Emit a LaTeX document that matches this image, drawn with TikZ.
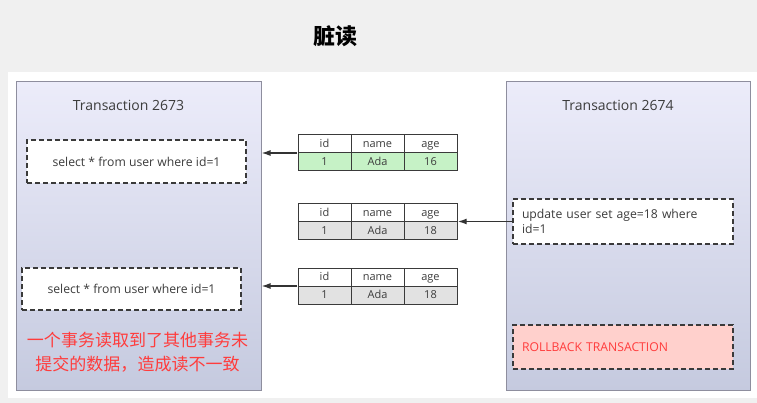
\documentclass[tikz,border=0pt]{standalone}
\usepackage{fontspec}
\setmainfont{Open Sans}
\newfontfamily\cjk{Noto Sans CJK SC}
\usetikzlibrary{arrows.meta,positioning,fit}

\definecolor{pagegray}{HTML}{F0F0F0}
\definecolor{boxtop}{HTML}{ECECFA}
\definecolor{boxbottom}{HTML}{C5CADF}
\definecolor{boxedge}{HTML}{8E8E9E}
\definecolor{dashedge}{HTML}{3A3A3A}
\definecolor{textgray}{HTML}{3C3C3C}
\definecolor{rowgreen}{HTML}{C6F2C6}
\definecolor{rowgray}{HTML}{E2E2E2}
\definecolor{notered}{HTML}{FF3C3C}
\definecolor{rollfill}{HTML}{FFD0CC}

\begin{document}
\begin{tikzpicture}[
      x=1pt, y=-1pt, >=Latex,
      font=\fontsize{12.2}{14.5}\selectfont,
      txbox/.style={draw=boxedge, line width=1pt, top color=boxtop,
        bottom color=boxbottom, minimum width=245pt,
        minimum height=308pt, inner sep=0pt},
      sqlbox/.style={draw=dashedge, dash pattern=on 5pt off 3pt,
        line width=1.6pt, fill=white, minimum width=219pt,
        minimum height=43pt, inner sep=0pt, text=textgray},
      cell/.style={draw=dashedge, line width=1pt, minimum width=53pt,
        minimum height=18pt, inner sep=0pt, text=textgray,
        text height=1.55ex, text depth=0.35ex,
        font=\fontsize{11}{12}\selectfont},
      link/.style={-{Latex[length=9pt,width=6pt]}, line width=1.4pt,
        draw=black!80}
    ]

    % ------------------ Page and panel ------------------
    \fill[pagegray] (0,0) rectangle (757,403);
    \fill[white] (8,72) rectangle (757,398);
    \node[font=\cjk\bfseries\fontsize{22}{24}\selectfont] (title)
    at (335,36) {脏读};

    % ------------------ Transactions ------------------
    \node[txbox] (tx1) at (138.5,236) {};
    \node[txbox, minimum width=244pt] (tx2) at (628,236) {};
    \node[text=textgray, font=\fontsize{14}{16}\selectfont] (tx1title)
    at ([xshift=-10pt, yshift=-24pt]tx1.north) {Transaction 2673};
    \node[text=textgray, font=\fontsize{14}{16}\selectfont] (tx2title)
    at ([xshift=-10pt, yshift=-24pt]tx2.north) {Transaction 2674};

    % ------------------ Statements ------------------
    \node[sqlbox] (sel1) at (136.5,161.5)
    {select * from user where id=1};
    \node[sqlbox, minimum height=42pt] (sel2) at (131.5,289)
    {select * from user where id=1};
    \node[sqlbox, minimum width=220pt, minimum height=45pt,
      text width=202pt, align=left] (upd) at (623,221.5)
    {update user set age=18 where\\id=1};
    \node[sqlbox, fill=rollfill, text=notered, minimum width=220pt,
      minimum height=44pt, text width=202pt, align=left] (roll)
    at (623,347) {ROLLBACK TRANSACTION};

    % ------------------ Rows of user ------------------
    \foreach \tname/\tx/\ty/\age/\rowfill in
    {t1/298/135/16/rowgreen, t2/298/204/18/rowgray,
      t3/298/268/18/rowgray}{
      \node[cell, fill=white] (\tname-id-h) at (\tx+26.5,\ty+9) {id};
      \node[cell, fill=white] (\tname-name-h) at (\tx+79.5,\ty+9) {name};
      \node[cell, fill=white] (\tname-age-h) at (\tx+132.5,\ty+9) {age};
      \node[cell, fill=\rowfill] (\tname-id-d) at (\tx+26.5,\ty+27) {1};
      \node[cell, fill=\rowfill] (\tname-name-d) at (\tx+79.5,\ty+27) {Ada};
      \node[cell, fill=\rowfill] (\tname-age-d) at (\tx+132.5,\ty+27)
      {\age};
      \node[fit=(\tname-id-h)(\tname-age-d), inner sep=0pt] (\tname) {};
    }

    % ------------------ Reads and writes ------------------
    \draw[link] (t1.west) -- (t1.west -| tx1.east);
    \draw[link] (upd.west) -- (upd.west -| t2.east);
    \draw[link] (t3.west) -- (t3.west -| tx1.east);

    % ------------------ Note ------------------
    \node[text=notered, align=center,
      font=\cjk\fontsize{17}{24}\selectfont] (note) at (137.5,352)
    {一个事务读取到了其他事务未\\提交的数据，造成读不一致};

  \end{tikzpicture}
\end{document}
